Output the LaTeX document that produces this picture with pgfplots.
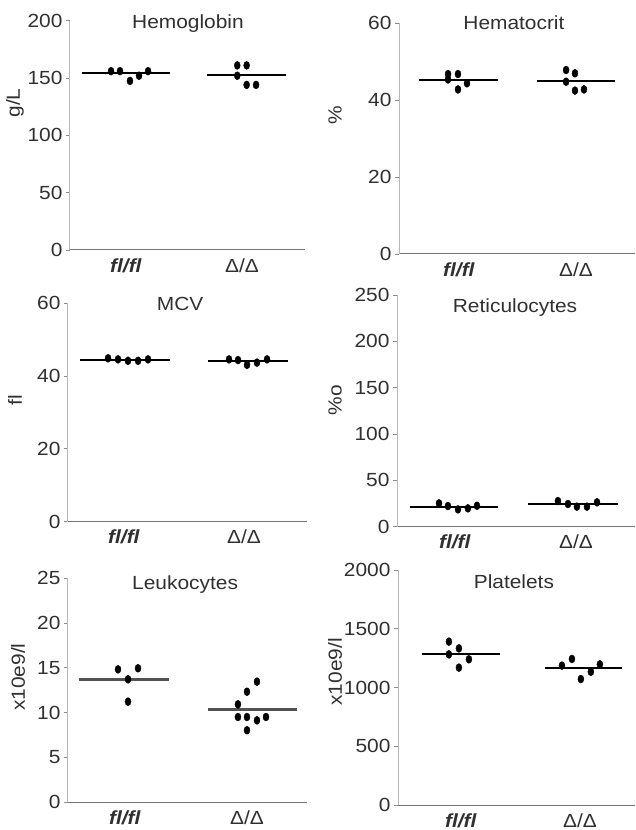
\documentclass[border=0pt]{standalone}
\usepackage{fontspec}
\setmainfont{Liberation Sans}[Ligatures=NoCommon, FakeStretch=1.1]
\usepackage{pgfplots}
\pgfplotsset{compat=1.18}

\newcommand{\fsz}{\fontsize{19}{21}\selectfont}
\definecolor{txt}{HTML}{303030}

\pgfplotsset{
  every axis title/.style={at={(0.5,1)}, anchor=center, font=\fsz, text=txt},
  panel/.style={
    scale only axis, clip=false,
    axis x line=bottom, axis y line=left,
    axis line style={-},
    x axis line style={draw=black!55, line width=1pt},
    y axis line style={draw=black!28, line width=1pt},
    xtick={1,2},
    xticklabels={\textbf{\textit{fl/fl}}, Δ/Δ},
    x tick style={draw=none},
    tick align=outside, major tick length=4pt,
    y tick style={draw=black!45, line width=0.8pt},
    ticklabel style={font=\fsz, text=txt},
    xticklabel style={yshift=-1pt},
    /pgf/number format/assume math mode=true,
    /pgf/number format/1000 sep={},
    scaled y ticks=false,
    ylabel style={font=\fsz, text=txt, anchor=center},
    anchor=south west,
  },
  dots/.style={only marks, mark=*, mark size=4pt,
    mark options={xscale=0.75, fill=black, draw=black}},
  mean/.style={black, line width=2pt},
}

\begin{document}
\begin{tikzpicture}
\path[use as bounding box] (0,0) rectangle (635pt,830pt);

% Hemoglobin
\begin{axis}[panel, at={(70pt,580pt)}, width=235pt, height=229.3pt,
  xmin=0.517, xmax=2.543, ymin=0, ymax=200, ytick={0,50,...,200},
  title={Hemoglobin}, title style={at={(0.502,1)}, yshift=-3pt},
  ylabel={g/L}, ylabel style={at={(axis description cs:-0.234,0.641)}}]
\addplot[mean] coordinates {(0.621,154.1) (1.379,154.1)};
\addplot[mean] coordinates {(1.698,152.3) (2.379,152.3)};
\addplot[dots] coordinates {(0.871,156) (0.948,156) (1.034,147.5) (1.112,152) (1.190,156)};
\addplot[dots] coordinates {(1.959,161) (2.040,161) (1.959,152) (2.040,144) (2.121,144)};
\end{axis}

% Hematocrit
\begin{axis}[panel, at={(399pt,576pt)}, width=236pt, height=230.7pt,
  xmin=0.487, xmax=2.504, ymin=0, ymax=60, ytick={0,20,40,60},
  title={Hematocrit}, title style={at={(0.487,1)}, yshift=1pt},
  ylabel={\%}, ylabel style={at={(axis description cs:-0.271,0.603)}}]
\addplot[mean] coordinates {(0.658,45.25) (1.333,45.25)};
\addplot[mean] coordinates {(1.667,45.0) (2.333,45.0)};
\addplot[dots] coordinates {(0.906,46.8) (0.906,45.4) (0.991,46.8) (0.991,42.8) (1.068,44.4)};
\addplot[dots] coordinates {(1.915,47.85) (1.991,47.0) (1.915,44.8) (1.991,42.5) (2.068,42.8)};
\end{axis}

% MCV
\begin{axis}[panel, at={(68pt,308.3pt)}, width=239pt, height=218.4pt,
  xmin=0.533, xmax=2.525, ymin=0, ymax=60, ytick={0,20,40,60},
  title={MCV}, title style={at={(0.469,1)}, yshift=-1pt},
  ylabel={fl}, ylabel style={at={(axis description cs:-0.222,0.557)}}]
\addplot[mean] coordinates {(0.633,44.4) (1.383,44.4)};
\addplot[mean] coordinates {(1.700,44.2) (2.367,44.2)};
\addplot[dots] coordinates {(0.867,44.9) (0.950,44.6) (1.033,44.2) (1.117,44.2) (1.200,44.6)};
\addplot[dots] coordinates {(1.875,44.6) (1.950,44.4) (2.025,43.1) (2.108,43.7) (2.192,44.6)};
\end{axis}

% Reticulocytes
\begin{axis}[panel, at={(397pt,303.3pt)}, width=238pt, height=231.7pt,
  xmin=0.521, xmax=2.488, ymin=0, ymax=250, ytick={0,50,...,250},
  title={Reticulocytes}, title style={at={(0.496,1)}, yshift=-13pt},
  ylabel={\%o}, ylabel style={at={(axis description cs:-0.26,0.547)}}]
\addplot[mean] coordinates {(0.628,21.6) (1.355,21.6)};
\addplot[mean] coordinates {(1.603,24.2) (2.347,24.2)};
\addplot[dots] coordinates {(0.868,25.2) (0.942,22.3) (1.025,18.7) (1.107,19.8) (1.182,22.6)};
\addplot[dots] coordinates {(1.851,27.7) (1.934,24.5) (2.008,21.6) (2.091,21.6) (2.174,26.3)};
\end{axis}

% Leukocytes
\begin{axis}[panel, at={(68pt,27.7pt)}, width=239pt, height=224pt,
  xmin=0.533, xmax=2.492, ymin=0, ymax=25, ytick={0,5,...,25},
  title={Leukocytes}, title style={at={(0.49,1)}, yshift=-6pt},
  ylabel={x10e9/l}, ylabel style={at={(axis description cs:-0.209,0.559)}}]
\addplot[mean, draw=black!68, line width=3pt] coordinates {(0.623,13.76) (1.361,13.76)};
\addplot[mean, draw=black!68, line width=3pt] coordinates {(1.680,10.41) (2.410,10.41)};
\addplot[dots] coordinates {(0.943,14.84) (1.107,14.96) (1.025,13.73) (1.025,11.23)};
\addplot[dots] coordinates {(2.082,13.46) (2.000,12.34) (1.926,10.94) (1.926,9.52)
  (2.000,9.52) (2.082,9.15) (2.156,9.52) (2.000,8.04)};
\end{axis}

% Platelets
\begin{axis}[panel, at={(398pt,25pt)}, width=237pt, height=235pt,
  xmin=0.471, xmax=2.463, ymin=0, ymax=2000, ytick={0,500,...,2000},
  title={Platelets}, title style={at={(0.489,1)}, yshift=-12pt},
  ylabel={x10e9/l}, ylabel style={at={(axis description cs:-0.266,0.566)}}]
\addplot[mean] coordinates {(0.672,1285) (1.328,1285)};
\addplot[mean] coordinates {(1.706,1163) (2.353,1163)};
\addplot[dots] coordinates {(0.899,1390) (0.983,1333) (0.899,1282) (1.067,1240) (0.983,1169)};
\addplot[dots] coordinates {(1.933,1243) (1.849,1186) (2.092,1134) (2.168,1197) (2.008,1072)};
\end{axis}
\end{tikzpicture}
\end{document}
